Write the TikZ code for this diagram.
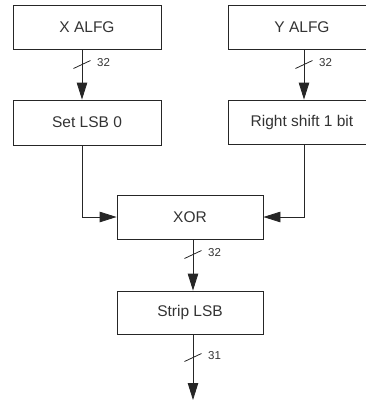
\documentclass[tikz,border=0pt]{standalone}
\usepackage{fontspec}
\setmainfont{Liberation Sans}
\usetikzlibrary{arrows.meta,calc}

\tikzset{
  blockbox/.style={draw=black!85, line width=0.8pt, inner sep=0pt,
    minimum width=148pt, minimum height=44pt, font=\fontsize{15.5}{18}\selectfont,
    text=black!80},
  wire/.style={draw=black!85, line width=0.8pt},
  flow/.style={wire, -{Triangle[length=17pt,width=10.5pt]}},
  buslabel/.style={anchor=west, inner sep=0pt, font=\fontsize{11.5}{13}\selectfont, text=black!80},
}
% slash across a bus line, with its bit width beside it
\newcommand{\busmark}[2]{%
  \draw[wire] ($(#1)+(-8.5,4)$) -- ($(#1)+(8.5,-4)$);
  \node[buslabel] at ($(#1)+(15,-1.5)$) {#2};
}

\begin{document}
\begin{tikzpicture}[x=1pt,y=-1pt]
\useasboundingbox (0,0) rectangle (366,400);

% processing blocks
\node[blockbox] (xa) at (87,27) {X ALFG};
\node[blockbox] (ya) at (302,27) {Y ALFG};
\node[blockbox, minimum height=45pt] (sl) at (87,122.5) {Set LSB 0};
\node[blockbox] (rs) at (302,122) {Right shift 1 bit};
\node[blockbox, minimum width=146pt] (xor) at (190,217) {XOR};
\node[blockbox, minimum width=146pt, minimum height=43pt] (strip) at (190,312.5) {Strip LSB};

% columns the connectors run along
\coordinate (lx) at (82,0);
\coordinate (rx) at (304,0);
\coordinate (mx) at (193,0);
\coordinate (out) at (193,400);

% inputs to the first stage
\draw[flow] (xa.south -| lx) -- (sl.north -| lx);
\draw[flow] (ya.south -| rx) -- (rs.north -| rx);
\coordinate (t1) at (82,64.5);
\coordinate (t2) at (304,64.5);
\busmark{t1}{32}
\busmark{t2}{32}

% both branches into the XOR
\draw[flow] (sl.south -| lx) |- (xor.west);
\draw[flow] (rs.south -| rx) |- (xor.east);

% XOR result through the strip stage
\draw[flow] (xor.south -| mx) -- (strip.north -| mx);
\coordinate (t3) at (193,254.5);
\busmark{t3}{32}
\draw[flow] (strip.south -| mx) -- (out);
\coordinate (t4) at (193,357.5);
\busmark{t4}{31}
\end{tikzpicture}
\end{document}
